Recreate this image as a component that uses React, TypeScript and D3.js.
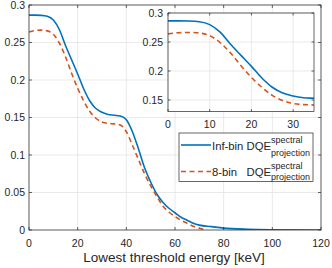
import { useMemo } from 'react';
import * as d3 from 'd3';

// lowest threshold energy [keV]
const energyInf = [0, 2.5, 5, 7.5, 10, 12.5, 15, 17.5, 20, 22.5, 25, 27.5, 30, 32.5, 35, 37.5, 40, 42.5, 45, 47.5, 50, 52.5, 55, 57.5, 60, 62.5, 65, 67.5, 70, 75, 80, 90, 100, 120];
const dqeInf = [0.2865, 0.2865, 0.2862, 0.285, 0.280, 0.267, 0.246, 0.227, 0.208, 0.188, 0.172, 0.162, 0.157, 0.154, 0.153, 0.152, 0.147, 0.131, 0.108, 0.083, 0.064, 0.048, 0.037, 0.029, 0.023, 0.017, 0.013, 0.009, 0.0065, 0.0045, 0.0025, 0.001, 0.0004, 0];

const energy8 = [0, 2.5, 5, 7.5, 10, 12.5, 15, 17.5, 20, 22.5, 25, 27.5, 30, 32.5, 35, 37.5, 40, 42.5, 45, 47.5, 50, 52.5, 55, 57.5, 60, 62.5, 65, 67.5, 70, 72.5];
const dqe8 = [0.264, 0.266, 0.2665, 0.2655, 0.261, 0.249, 0.231, 0.209, 0.189, 0.172, 0.158, 0.149, 0.144, 0.142, 0.1415, 0.140, 0.131, 0.113, 0.094, 0.075, 0.059, 0.045, 0.032, 0.024, 0.018, 0.013, 0.009, 0.005, 0.0025, 0];

const mainXTicks = [0, 20, 40, 60, 80, 100, 120];
const mainYTicks = [0, 0.05, 0.1, 0.15, 0.2, 0.25, 0.3];
const insetXTicks = [0, 10, 20, 30];
const insetYTicks = [0.15, 0.2, 0.25, 0.3];

const BLUE = '#0072BD';
const ORANGE = '#D95319';
const AX = '#262626';
const GRID = '#e3e3e3';
const FONT = '"Liberation Sans", Arial, Helvetica, sans-serif';

type Pt = [number, number];

function Axes({ x, y, xTicks, yTicks, fs, tickLen, xLabelDy, yLabelDx, series, clipId }: any) {
  const [x0, x1] = x.range();
  const [y0, y1] = y.range();
  const line = d3.line<Pt>().x(d => x(d[0])).y(d => y(d[1])).curve(d3.curveMonotoneX);
  return (
    <g>
      <defs>
        <clipPath id={clipId}>
          <rect x={x0} y={y1} width={x1 - x0} height={y0 - y1} />
        </clipPath>
      </defs>
      <rect x={x0} y={y1} width={x1 - x0} height={y0 - y1} fill="#fff" />
      {xTicks.map((t: number) => (
        <line key={'gx' + t} x1={x(t)} x2={x(t)} y1={y0} y2={y1} stroke={GRID} strokeWidth={0.8} />
      ))}
      {yTicks.map((t: number) => (
        <line key={'gy' + t} x1={x0} x2={x1} y1={y(t)} y2={y(t)} stroke={GRID} strokeWidth={0.8} />
      ))}
      <g clipPath={`url(#${clipId})`}>
        {series.map((s: any, i: number) => (
          <path key={i} d={line(s.pts) || ''} fill="none" stroke={s.color} strokeWidth={1.6}
            strokeDasharray={s.dash || undefined} />
        ))}
      </g>
      <rect x={x0} y={y1} width={x1 - x0} height={y0 - y1} fill="none" stroke={AX} strokeWidth={0.7} />
      {xTicks.map((t: number) => (
        <g key={'tx' + t}>
          <line x1={x(t)} x2={x(t)} y1={y0} y2={y0 - tickLen} stroke={AX} strokeWidth={0.7} />
          <line x1={x(t)} x2={x(t)} y1={y1} y2={y1 + tickLen} stroke={AX} strokeWidth={0.7} />
          <text x={x(t)} y={y0 + xLabelDy} textAnchor="middle" fontSize={fs} fill={AX} fontFamily={FONT}>{t}</text>
        </g>
      ))}
      {yTicks.map((t: number) => (
        <g key={'ty' + t}>
          <line x1={x0} x2={x0 + tickLen} y1={y(t)} y2={y(t)} stroke={AX} strokeWidth={0.7} />
          <line x1={x1} x2={x1 - tickLen} y1={y(t)} y2={y(t)} stroke={AX} strokeWidth={0.7} />
          <text x={x0 - yLabelDx} y={y(t)} dy="0.36em" textAnchor="end" fontSize={fs} fill={AX} fontFamily={FONT}>{t}</text>
        </g>
      ))}
    </g>
  );
}

export default function App() {
  const inf: Pt[] = useMemo(() => energyInf.map((e, i) => [e, dqeInf[i]] as Pt), []);
  const bin8: Pt[] = useMemo(() => energy8.map((e, i) => [e, dqe8[i]] as Pt), []);
  const series = [
    { pts: inf, color: BLUE },
    { pts: bin8, color: ORANGE, dash: '5,3.5' },
  ];

  const x = d3.scaleLinear().domain([0, 120]).range([29, 321]);
  const y = d3.scaleLinear().domain([0, 0.3]).range([230, 5]);
  const xi = d3.scaleLinear().domain([0, 35]).range([168, 314]);
  const yi = d3.scaleLinear().domain([0.13, 0.3]).range([111.6, 13]);

  const lg = { x: 179, y: 133, w: 134, h: 48.5 };

  return (
    <svg width={332} height={268} style={{ position: 'absolute', left: 0, top: 0, background: '#fff' }}>
      <rect width={332} height={268} fill="#fff" />
      <Axes x={x} y={y} xTicks={mainXTicks} yTicks={mainYTicks} fs={10.5} tickLen={3}
        xLabelDy={17} yLabelDx={4} series={series} clipId="clipMain" />
      <text x={174} y={262} textAnchor="middle" fontSize={13.5} fill={AX} fontFamily={FONT}>Lowest threshold energy [keV]</text>

      <Axes x={xi} y={yi} xTicks={insetXTicks} yTicks={insetYTicks} fs={10.5} tickLen={2.5}
        xLabelDy={16.5} yLabelDx={5} series={series} clipId="clipInset" />

      <g fontFamily={FONT} fill={AX}>
        <rect x={lg.x} y={lg.y} width={lg.w} height={lg.h} fill="#fff" stroke={AX} strokeWidth={0.7} />
        <line x1={181} x2={211} y1={145} y2={145} stroke={BLUE} strokeWidth={1.6} />
        <text x={212} y={150.3} fontSize={11.3}>Inf-bin DQE</text>
        <text x={271} y={143.3} fontSize={9}>spectral</text>
        <text x={271} y={156} fontSize={9}>projection</text>
        <line x1={181} x2={211} y1={171.5} y2={171.5} stroke={ORANGE} strokeWidth={1.6} strokeDasharray="5,3.5" />
        <text x={212} y={176} fontSize={11.3}>8-bin</text>
        <text x={246.5} y={176} fontSize={11.3}>DQE</text>
        <text x={271} y={169} fontSize={9}>spectral</text>
        <text x={271} y={179.5} fontSize={9}>projection</text>
      </g>
    </svg>
  );
}
